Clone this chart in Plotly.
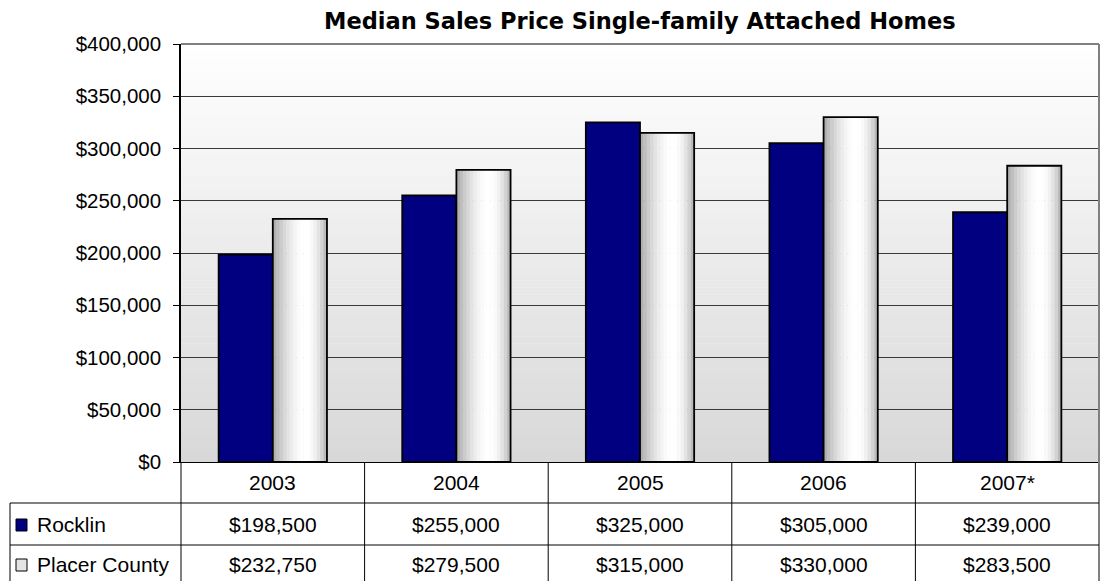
import plotly.graph_objects as go

years = ["2003", "2004", "2005", "2006", "2007*"]
rocklin = [198500, 255000, 325000, 305000, 239000]
placer = [232750, 279500, 315000, 330000, 283500]
series_names = ["Rocklin", "Placer County"]
title_text = "Median Sales Price Single-family Attached Homes"

W, H = 1104, 581
L, R, T, B = 181, 1099, 44, 462
PW, PH = R - L, B - T

def px(xp):
    return (xp - L) / PW

def py(yp):
    return (B - yp) / PH

FONT = "Liberation Sans, Arial, sans-serif"
NAVY = "#000080"
bw = 0.295

fig = go.Figure()

# Rocklin bars
fig.add_trace(go.Bar(x=years, y=rocklin, name=series_names[0], width=bw, offset=-bw,
                     marker=dict(color=NAVY, line=dict(color="black", width=1.8)),
                     showlegend=False, hoverinfo="x+y"))

# Placer County bars with cylinder-like horizontal gradient built from slices
grad = [176, 190, 204, 216, 227, 236, 244, 250, 254, 255, 254, 249, 240, 227, 210, 186]
N = len(grad)
for k, g in enumerate(grad):
    fig.add_trace(go.Bar(x=years, y=placer, width=bw / N + 0.002, offset=k * bw / N,
                         marker=dict(color=f"rgb({g},{g},{g})", line=dict(width=0)),
                         showlegend=False, hoverinfo="skip"))
fig.add_trace(go.Bar(x=years, y=placer, name=series_names[1], width=bw, offset=0,
                     marker=dict(color="rgba(0,0,0,0)", line=dict(color="black", width=1.8)),
                     showlegend=False, hoverinfo="x+y"))

shapes = []
# background vertical gradient
nb = 60
for i in range(nb):
    g0 = 255 - (255 - 216) * (i + 0.5) / nb
    gi = int(round(g0))
    shapes.append(dict(type="rect", xref="paper", yref="paper", x0=0, x1=1,
                       y0=1 - (i + 1) / nb, y1=1 - i / nb + 0.001, layer="below",
                       fillcolor=f"rgb({gi},{gi},{gi})", line=dict(width=0)))
# top and right gray border
shapes.append(dict(type="line", xref="paper", yref="paper", x0=0, x1=1, y0=1, y1=1,
                   line=dict(color="#808080", width=2)))
shapes.append(dict(type="line", xref="paper", yref="paper", x0=1, x1=1, y0=1, y1=py(581),
                   line=dict(color="#808080", width=2)))

# table lines
line_c = dict(color="black", width=1)
shapes.append(dict(type="line", xref="paper", yref="paper", x0=px(10), x1=1, y0=py(503), y1=py(503), line=line_c))
shapes.append(dict(type="line", xref="paper", yref="paper", x0=px(10), x1=1, y0=py(545), y1=py(545), line=line_c))
shapes.append(dict(type="line", xref="paper", yref="paper", x0=px(10), x1=px(10), y0=py(503), y1=py(581), line=line_c))
shapes.append(dict(type="line", xref="paper", yref="paper", x0=0, x1=0, y0=0, y1=py(581), line=line_c))
for i in range(1, len(years)):
    xb = i / len(years)
    shapes.append(dict(type="line", xref="paper", yref="paper", x0=xb, x1=xb, y0=0, y1=py(581), line=line_c))

# legend keys in table
shapes.append(dict(type="rect", xref="paper", yref="paper", x0=px(16), x1=px(27),
                   y0=py(531), y1=py(519), fillcolor=NAVY, line=dict(color="black", width=1)))
shapes.append(dict(type="rect", xref="paper", yref="paper", x0=px(16), x1=px(27),
                   y0=py(571), y1=py(559), fillcolor="#e4e4e4", line=dict(color="black", width=1)))

annotations = []
fs = 21
for i, yr in enumerate(years):
    annotations.append(dict(x=i, y=py(482), xref="x", yref="paper", text=yr, showarrow=False,
                            font=dict(family=FONT, size=fs, color="black"), xanchor="center", yanchor="middle"))
for i, v in enumerate(rocklin):
    annotations.append(dict(x=i, y=py(524), xref="x", yref="paper", text=f"${v:,}", showarrow=False,
                            font=dict(family=FONT, size=fs, color="black"), xanchor="center", yanchor="middle"))
for i, v in enumerate(placer):
    annotations.append(dict(x=i, y=py(564), xref="x", yref="paper", text=f"${v:,}", showarrow=False,
                            font=dict(family=FONT, size=fs, color="black"), xanchor="center", yanchor="middle"))
annotations.append(dict(x=px(35), y=py(524), xref="paper", yref="paper", text=series_names[0], showarrow=False,
                        font=dict(family=FONT, size=fs, color="black"), xanchor="left", yanchor="middle"))
annotations.append(dict(x=px(35), y=py(564), xref="paper", yref="paper", text=series_names[1], showarrow=False,
                        font=dict(family=FONT, size=fs, color="black"), xanchor="left", yanchor="middle"))
annotations.append(dict(x=0.5, y=py(21), xref="paper", yref="paper", text=f"<b>{title_text}</b>", showarrow=False,
                        font=dict(family="DejaVu Sans, sans-serif", size=22.5, color="black"),
                        xanchor="center", yanchor="middle"))

fig.update_layout(
    width=W, height=H,
    margin=dict(l=L, r=W - R, t=T, b=H - B, pad=0),
    paper_bgcolor="white", plot_bgcolor="rgba(0,0,0,0)",
    barmode="overlay",
    shapes=shapes, annotations=annotations,
    showlegend=False,
    xaxis=dict(type="category", showticklabels=False, ticks="", showgrid=False,
               showline=True, linecolor="black", linewidth=1, zeroline=False,
               range=[-0.5, len(years) - 0.5], fixedrange=True),
    yaxis=dict(range=[0, 400000], dtick=50000, tickprefix="$", tickformat=",d",
               showgrid=True, gridcolor="#3a3a3a", gridwidth=1,
               ticks="outside", ticklen=6, tickcolor="black", ticklabelstandoff=8,
               showline=True, linecolor="black", linewidth=1.5, zeroline=False,
               tickfont=dict(family=FONT, size=20.5, color="black"), fixedrange=True),
)

fig.write_html("out.html", config={"displayModeBar": False},
               post_script="document.body.style.margin='0';document.body.style.padding='0';")
